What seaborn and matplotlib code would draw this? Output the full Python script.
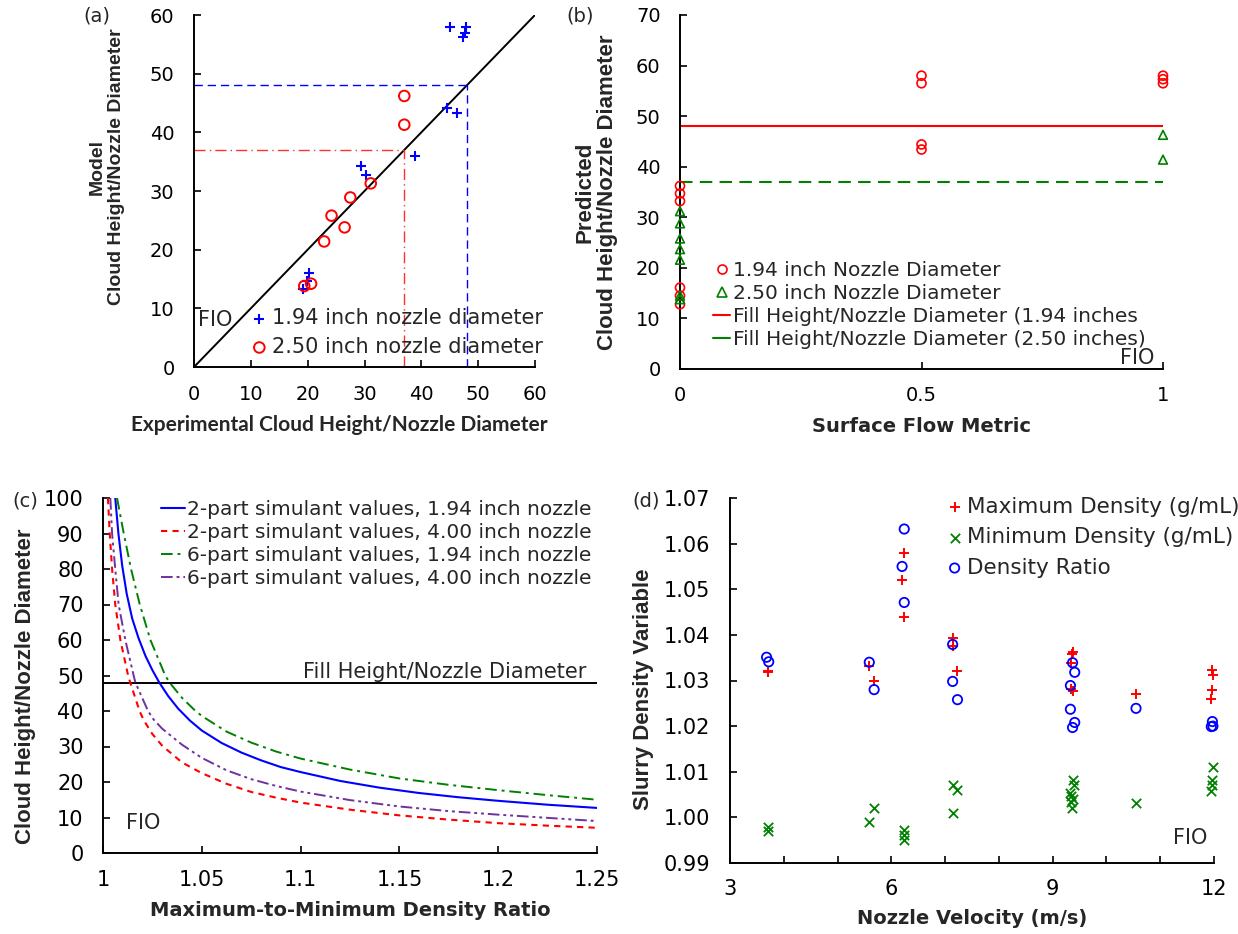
import seaborn as sns
import matplotlib.pyplot as plt
from matplotlib.lines import Line2D
from matplotlib.ticker import FuncFormatter, MultipleLocator

sns.set_style("ticks")
plt.rcParams['font.family'] = ['DejaVu Sans']

W, H = 1238, 934

# (a) model vs experiment, cloud height / nozzle diameter
a_exp_194 = [45.0, 47.8, 47.6, 47.4, 44.6, 46.2, 38.9, 29.3, 30.2, 20.3, 19.8, 19.2]
a_mod_194 = [57.9, 58.0, 57.0, 56.3, 44.2, 43.3, 35.9, 34.2, 32.8, 16.1, 14.7, 13.3]
a_exp_250 = [37.0, 37.0, 31.1, 27.5, 24.2, 26.5, 22.9, 19.4, 20.6]
a_mod_250 = [46.2, 41.3, 31.3, 28.9, 25.8, 23.8, 21.4, 13.8, 14.2]
fill_194 = 48.0
fill_250 = 37.0

# (b) predicted cloud height vs surface flow metric
b_sfm_194 = [0, 0, 0, 0, 0, 0, 0.5, 0.5, 0.5, 0.5, 1, 1, 1]
b_pred_194 = [36.2, 34.7, 33.2, 16.1, 14.5, 12.8, 58.0, 56.5, 44.4, 43.4, 58.0, 57.3, 56.5]
b_sfm_250 = [0, 0, 0, 0, 0, 0, 0, 1, 1]
b_pred_250 = [31.2, 28.8, 25.8, 23.7, 21.6, 14.5, 13.8, 46.3, 41.4]

# (c) cloud height vs max/min density ratio
c_r_2p194 = [1.0062, 1.0078, 1.0097, 1.012, 1.0148, 1.018, 1.0215, 1.025, 1.0285, 1.033,
             1.038, 1.044, 1.05, 1.06, 1.07, 1.08, 1.09, 1.1, 1.12, 1.14,
             1.16, 1.18, 1.2, 1.225, 1.25]
c_h_2p194 = [100, 90, 81, 73, 66, 60.5, 55.5, 51.5, 48, 44.2,
             40.7, 37.3, 34.5, 31.0, 28.3, 26.1, 24.2, 22.8, 20.3, 18.4,
             16.9, 15.7, 14.7, 13.6, 12.7]
c_r_2p400 = [1.0025, 1.0034, 1.0046, 1.0062, 1.0088, 1.0127, 1.0138, 1.0185, 1.0206, 1.025,
             1.03, 1.04, 1.05, 1.0625, 1.075, 1.0875, 1.1, 1.125, 1.15, 1.175,
             1.2, 1.225, 1.25]
c_h_2p400 = [100, 90, 80, 70, 60, 50, 48, 40, 37.4, 33.5,
             30.2, 25.5, 22.5, 19.5, 17.2, 15.6, 14.2, 12.2, 10.6, 9.4,
             8.4, 7.7, 7.1]
c_r_6p194 = [1.0071, 1.0105, 1.0142, 1.0186, 1.024, 1.0315, 1.0337, 1.04, 1.0459, 1.05,
             1.0625, 1.075, 1.0875, 1.1, 1.125, 1.15, 1.175, 1.2, 1.225, 1.25]
c_h_6p194 = [100, 90, 80, 70, 60, 50, 48, 43.7, 40.5, 38.6,
             34.2, 31.1, 28.6, 26.6, 23.5, 21.0, 19.2, 17.7, 16.3, 15.0]
c_r_6p400 = [1.0037, 1.0046, 1.0062, 1.0079, 1.0113, 1.0155, 1.0164, 1.0228, 1.0256, 1.03,
             1.04, 1.05, 1.0625, 1.075, 1.0875, 1.1, 1.125, 1.15, 1.175, 1.2,
             1.225, 1.25]
c_h_6p400 = [100, 90, 80, 70, 60, 50, 48, 40, 37.6, 35.0,
             30.5, 26.8, 23.3, 20.8, 18.9, 17.3, 14.9, 13.1, 11.8, 10.8,
             9.9, 9.0]
c_fill = 48.0

# (d) slurry density variables vs nozzle velocity
d_vel_max = [3.70, 3.70, 5.59, 5.68, 6.20, 6.23, 6.24, 7.14, 7.14, 7.22,
             9.38, 9.36, 9.35, 9.35, 9.38, 10.55, 11.97, 11.98, 11.96, 11.95]
d_max = [1.0320, 1.0318, 1.0331, 1.0300, 1.0520, 1.0580, 1.0440, 1.0393, 1.0375, 1.0320,
         1.0362, 1.0357, 1.0339, 1.0281, 1.0278, 1.0270, 1.0323, 1.0312, 1.0279, 1.0259]
d_vel_min = [3.70, 3.70, 5.59, 5.68, 6.24, 6.24, 6.24, 7.14, 7.22, 7.14, 9.38,
             9.40, 9.33, 9.35, 9.38, 9.35, 9.36, 10.55, 11.99, 11.96, 11.97, 11.95]
d_min = [0.9978, 0.9970, 0.9989, 1.0020, 0.9972, 0.9962, 0.9950, 1.0071, 1.0060, 1.0010, 1.0082,
         1.0072, 1.0053, 1.0046, 1.0040, 1.0033, 1.0020, 1.0032, 1.0111, 1.0082, 1.0071, 1.0058]
d_vel_ratio = [3.68, 3.72, 5.59, 5.68, 6.24, 6.20, 6.24, 7.14, 7.14, 7.23,
               9.37, 9.41, 9.33, 9.33, 9.41, 9.37, 10.55, 11.97, 11.95, 11.98]
d_ratio = [1.0351, 1.0341, 1.0340, 1.0280, 1.0632, 1.0550, 1.0471, 1.0379, 1.0298, 1.0258,
           1.0339, 1.0318, 1.0289, 1.0237, 1.0208, 1.0197, 1.0239, 1.0210, 1.0199, 1.0200]

BLUE, RED, GREEN, PURPLE = '#0000FF', '#FF0000', '#008000', '#7030A0'
ARIAL = 'Liberation Sans'

# plot areas in pixels (left, top, right, bottom)
RA = (194, 15, 535, 367)
RB = (680, 15, 1163, 369)
RC = (103, 498, 597, 853)
RD = (730, 498, 1214, 863)

fig = plt.figure(figsize=(W / 100, H / 100), dpi=100)


def make_axes(r):
    l, t, rr, b = r
    return fig.add_axes([l / W, 1 - b / H, (rr - l) / W, (b - t) / H])


def fx(x):
    return x / W


def fy(y):
    return 1 - y / H


def style(ax, size, xpad, ypad):
    for s in ['top', 'right']:
        ax.spines[s].set_visible(False)
    for s in ['left', 'bottom']:
        ax.spines[s].set_linewidth(1.4)
        ax.spines[s].set_color('black')
    ax.tick_params(which='both', direction='in', length=5, width=1.2, colors='black', labelsize=size)
    ax.tick_params(axis='x', pad=xpad)
    ax.tick_params(axis='y', pad=ypad)


def put_xlabel(ax, r, text, x, y, **kw):
    l, t, rr, b = r
    ax.set_xlabel(text, fontweight='bold', va='center', ha='center', **kw)
    ax.xaxis.set_label_coords((x - l) / (rr - l), (b - y) / (b - t))


def put_ylabel(ax, r, text, x, y, **kw):
    l, t, rr, b = r
    ax.set_ylabel(text, fontweight='bold', va='center', ha='center', **kw)
    ax.yaxis.set_label_coords((x - l) / (rr - l), (b - y) / (b - t))


def put_legend(ax, handles, labels, x, y, **kw):
    ax.legend(handles, labels, loc='upper left', bbox_to_anchor=(fx(x), fy(y)),
              bbox_transform=fig.transFigure, frameon=False, borderpad=0,
              borderaxespad=0, **kw)


# ---------------- (a) ----------------
ax = make_axes(RA)
ax.plot([0, 60], [0, 60], color='black', lw=1.4)
ax.plot([0, fill_194], [fill_194, fill_194], color=BLUE, lw=1.0, ls=(0, (6, 3.5)))
ax.plot([fill_194, fill_194], [0, fill_194], color=BLUE, lw=1.0, ls=(0, (6, 3.5)))
ax.plot([0, fill_250], [fill_250, fill_250], color='#FF3030', lw=1.0, ls=(0, (8, 3, 1, 3)))
ax.plot([fill_250, fill_250], [0, fill_250], color='#FF3030', lw=1.0, ls=(0, (8, 3, 1, 3)))
sns.scatterplot(x=a_exp_194, y=a_mod_194, marker='+', s=50, color=BLUE, linewidth=1.5,
                label='1.94 inch nozzle diameter', ax=ax, clip_on=False, zorder=3)
sns.scatterplot(x=a_exp_250, y=a_mod_250, marker='o', s=58, facecolor='none', edgecolor=RED,
                linewidth=1.4, label='2.50 inch nozzle diameter', ax=ax, clip_on=False, zorder=3)
ax.set_xlim(0, 60)
ax.set_ylim(0, 60)
ax.set_xticks(range(0, 61, 10))
ax.set_yticks(range(0, 61, 10))
style(ax, 14, 13, 14)
put_xlabel(ax, RA, 'Experimental Cloud Height/Nozzle Diameter', 339, 425,
           fontsize=15, family=['Lato', ARIAL])
put_ylabel(ax, RA, 'Model\nCloud Height/Nozzle Diameter', 107, 167,
           fontsize=14, family=ARIAL, linespacing=1.2)
h, lab = ax.get_legend_handles_labels()
put_legend(ax, h, lab, 251, 308, fontsize=15, handlelength=0.8, handletextpad=0.2,
           labelspacing=0.43)
fig.text(fx(215), fy(320), 'FIO', fontsize=15, ha='center', va='center')
fig.text(fx(97), fy(16), '(a)', fontsize=14, ha='center', va='center')

# ---------------- (b) ----------------
ax = make_axes(RB)
ax.axhline(fill_194, color=RED, lw=1.5)
ax.axhline(fill_250, color=GREEN, lw=1.5, ls=(0, (6, 3.5)))
sns.scatterplot(x=b_sfm_194, y=b_pred_194, marker='o', s=42, facecolor='none', edgecolor=RED,
                linewidth=1.2, ax=ax, clip_on=False, zorder=3)
sns.scatterplot(x=b_sfm_250, y=b_pred_250, marker='^', s=40, facecolor='none', edgecolor=GREEN,
                linewidth=1.2, ax=ax, clip_on=False, zorder=3)
ax.set_xlim(0, 1)
ax.set_ylim(0, 70)
ax.set_xticks([0, 0.5, 1])
ax.set_yticks(range(0, 71, 10))
ax.xaxis.set_major_formatter(FuncFormatter(lambda v, p: f'{v:g}'))
style(ax, 14, 12, 14)
put_xlabel(ax, RB, 'Surface Flow Metric', 922, 427, fontsize=14)
put_ylabel(ax, RB, 'Predicted\nCloud Height/Nozzle Diameter', 596, 192,
           fontsize=16, family=ARIAL, linespacing=1.1)
b_handles = [
    Line2D([], [], ls='none', marker='o', ms=6.5, mfc='none', mec=RED, mew=1.2),
    Line2D([], [], ls='none', marker='^', ms=6.5, mfc='none', mec=GREEN, mew=1.2),
    Line2D([], [], color=RED, lw=1.5),
    Line2D([], [], color=GREEN, lw=1.5),
]
b_labels = ['1.94 inch Nozzle Diameter', '2.50 inch Nozzle Diameter',
            'Fill Height/Nozzle Diameter (1.94 inches',
            'Fill Height/Nozzle Diameter (2.50 inches)']
put_legend(ax, b_handles, b_labels, 713, 261, fontsize=14.5, handlelength=0.85,
           handletextpad=0.15, labelspacing=0.2)
fig.text(fx(1137), fy(358), 'FIO', fontsize=15, ha='center', va='center')
fig.text(fx(580), fy(16), '(b)', fontsize=14, ha='center', va='center')

# ---------------- (c) ----------------
ax = make_axes(RC)
ax.axhline(c_fill, color='black', lw=1.4)
sns.lineplot(x=c_r_2p194, y=c_h_2p194, sort=False, estimator=None, color=BLUE, lw=1.5,
             label='2-part simulant values, 1.94 inch nozzle', ax=ax)
sns.lineplot(x=c_r_2p400, y=c_h_2p400, sort=False, estimator=None, color=RED, lw=1.5,
             linestyle=(0, (3, 2.5)), label='2-part simulant values, 4.00 inch nozzle', ax=ax)
sns.lineplot(x=c_r_6p194, y=c_h_6p194, sort=False, estimator=None, color=GREEN, lw=1.4,
             linestyle=(0, (6, 2.5, 1.5, 2.5)), label='6-part simulant values, 1.94 inch nozzle', ax=ax)
sns.lineplot(x=c_r_6p400, y=c_h_6p400, sort=False, estimator=None, color=PURPLE, lw=1.4,
             linestyle=(0, (6, 2, 1.5, 2, 1.5, 2)), label='6-part simulant values, 4.00 inch nozzle', ax=ax)
ax.set_xlim(1, 1.25)
ax.set_ylim(0, 100)
ax.set_xticks([1, 1.05, 1.1, 1.15, 1.2, 1.25])
ax.set_yticks(range(0, 101, 10))
ax.xaxis.set_major_formatter(FuncFormatter(lambda v, p: f'{v:g}'))
style(ax, 15, 12, 14)
put_xlabel(ax, RC, 'Maximum-to-Minimum Density Ratio', 350, 910, fontsize=14)
put_ylabel(ax, RC, 'Cloud Height/Nozzle Diameter', 26, 686, fontsize=16, family=ARIAL)
h, lab = ax.get_legend_handles_labels()
put_legend(ax, h, lab, 161, 500, fontsize=14.5, handlelength=1.2, handletextpad=0.1,
           labelspacing=0.2)
fig.text(fx(586), fy(672), 'Fill Height/Nozzle Diameter', fontsize=15, ha='right', va='center')
fig.text(fx(143), fy(823), 'FIO', fontsize=15, ha='center', va='center')
fig.text(fx(25), fy(501), '(c)', fontsize=14, ha='center', va='center')

# ---------------- (d) ----------------
ax = make_axes(RD)
sns.scatterplot(x=d_vel_max, y=d_max, marker='+', s=60, color=RED, linewidth=1.4,
                label='Maximum Density (g/mL)', ax=ax, clip_on=False, zorder=3)
sns.scatterplot(x=d_vel_min, y=d_min, marker='x', s=45, color=GREEN, linewidth=1.3,
                label='Minimum Density (g/mL)', ax=ax, clip_on=False, zorder=3)
sns.scatterplot(x=d_vel_ratio, y=d_ratio, marker='o', s=45, facecolor='none', edgecolor=BLUE,
                linewidth=1.3, label='Density Ratio', ax=ax, clip_on=False, zorder=3)
ax.set_xlim(3, 12)
ax.set_ylim(0.99, 1.07)
ax.set_xticks([3, 6, 9, 12])
ax.xaxis.set_minor_locator(MultipleLocator(1))
ax.set_yticks([0.99 + 0.01 * i for i in range(9)])
ax.yaxis.set_major_formatter(FuncFormatter(lambda v, p: f'{v:.2f}'))
style(ax, 15, 11.5, 14)
put_xlabel(ax, RD, 'Nozzle Velocity (m/s)', 972, 919, fontsize=14)
put_ylabel(ax, RD, 'Slurry Density Variable', 644, 689, fontsize=16, family=ARIAL)
h, lab = ax.get_legend_handles_labels()
put_legend(ax, h, lab, 946, 497, fontsize=15.5, handlelength=0.8, handletextpad=0.16,
           labelspacing=0.48)
fig.text(fx(1190), fy(838), 'FIO', fontsize=15, ha='center', va='center')
fig.text(fx(646), fy(501), '(d)', fontsize=14, ha='center', va='center')

fig.savefig('out.png', dpi=100, facecolor='white')
plt.close(fig)
